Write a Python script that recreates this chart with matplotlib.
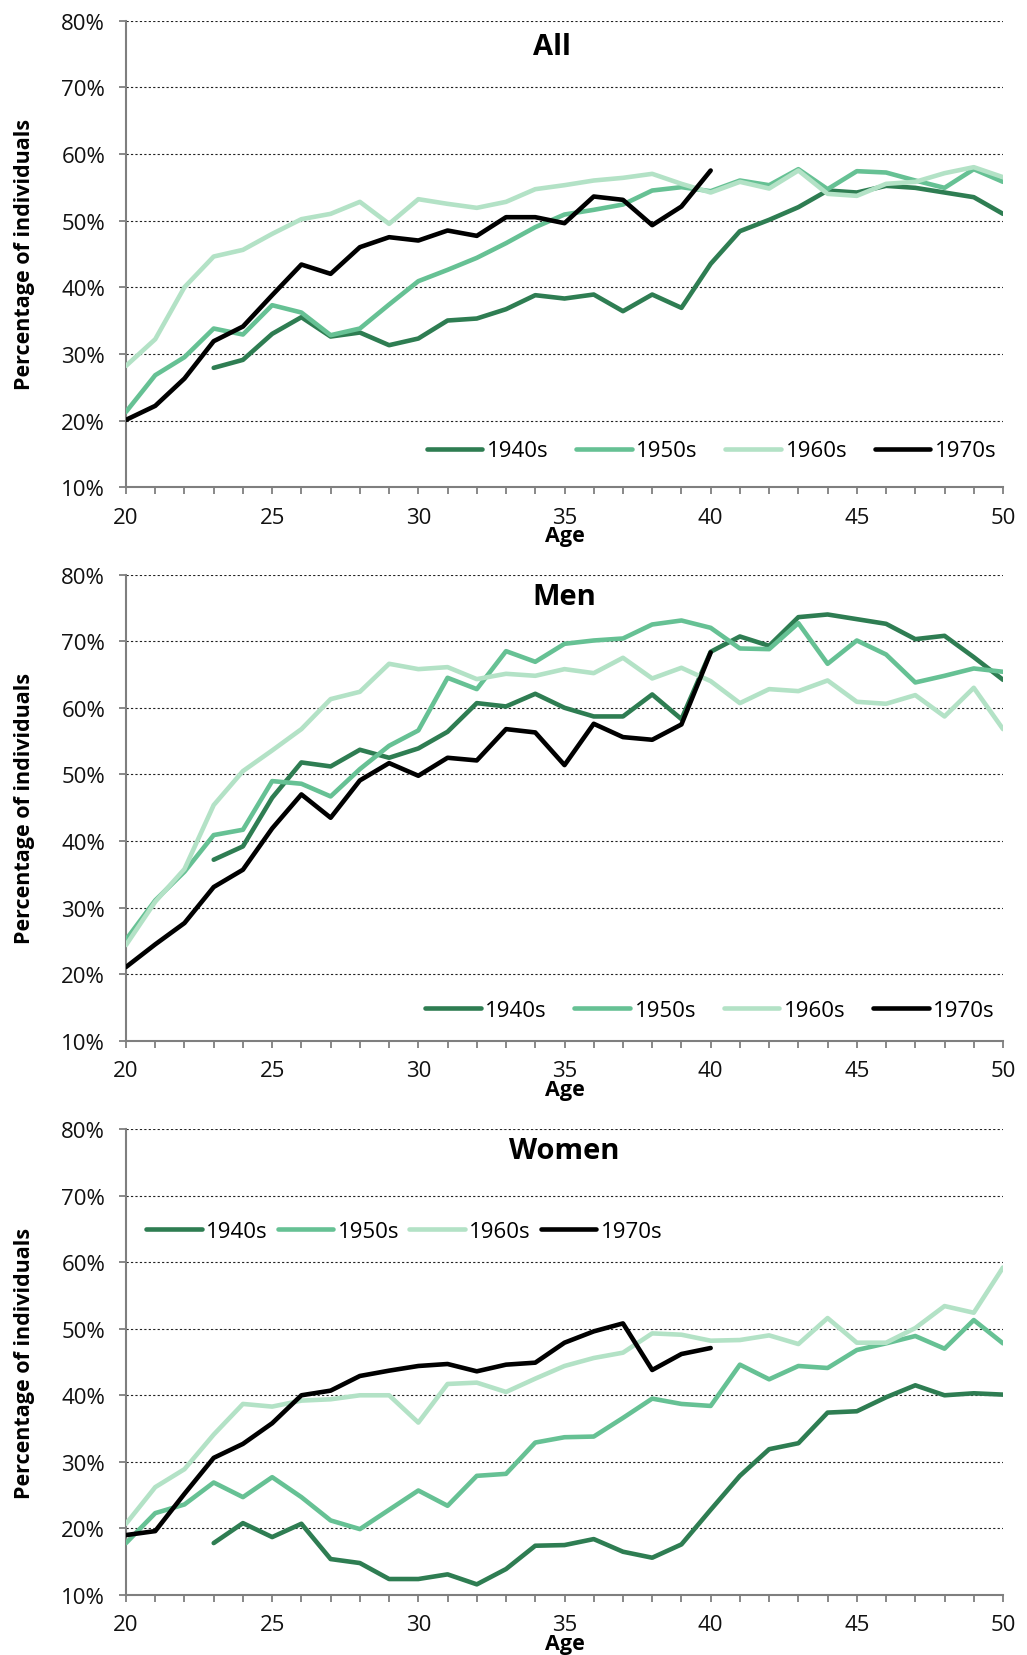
import matplotlib
matplotlib.use('Agg')
import matplotlib.pyplot as plt
from matplotlib.ticker import MultipleLocator, FuncFormatter
import numpy as np

plt.rcParams['font.family'] = ['Open Sans', 'DejaVu Sans']

cohorts = ['1940s', '1950s', '1960s', '1970s']
colors = ['#2e7d52', '#66c194', '#b3e2c6', '#000000']
start_ages = [23, 20, 20, 20]

# ---- All ----
all_1940s = [27.9, 29.1, 33.0, 35.5, 32.6, 33.2, 31.3, 32.3, 35.0, 35.3, 36.7, 38.8, 38.3, 38.9,
             36.4, 38.9, 36.9, 43.5, 48.4, 50.1, 52.0, 54.5, 54.2, 55.2, 54.9, 54.2, 53.5, 51.0]
all_1950s = [21.3, 26.8, 29.5, 33.8, 32.9, 37.3, 36.2, 32.8, 33.8, 37.4, 40.9, 42.6, 44.4, 46.6,
             49.0, 50.9, 51.6, 52.4, 54.5, 55.0, 54.4, 56.0, 55.3, 57.7, 54.7, 57.4, 57.2, 56.0,
             54.9, 57.7, 55.8]
all_1960s = [28.2, 32.2, 40.0, 44.6, 45.6, 48.0, 50.2, 51.0, 52.8, 49.5, 53.2, 52.5, 51.9, 52.8,
             54.7, 55.3, 56.0, 56.4, 57.0, 55.5, 54.2, 55.8, 54.8, 57.5, 54.0, 53.7, 55.5, 55.8,
             57.1, 58.0, 56.5]
all_1970s = [20.1, 22.2, 26.3, 31.9, 34.1, 38.8, 43.4, 42.0, 46.0, 47.5, 47.0, 48.5, 47.7, 50.5,
             50.5, 49.6, 53.6, 53.1, 49.3, 52.1, 57.5]

# ---- Men ----
men_1940s = [37.2, 39.2, 46.5, 51.8, 51.2, 53.7, 52.5, 53.9, 56.4, 60.7, 60.2, 62.1, 60.0, 58.7,
             58.7, 62.0, 58.3, 68.4, 70.7, 69.3, 73.6, 74.0, 73.3, 72.6, 70.3, 70.8, 67.6, 64.2]
men_1950s = [25.2, 31.1, 35.4, 40.9, 41.7, 49.0, 48.6, 46.7, 50.8, 54.3, 56.6, 64.5, 62.8, 68.5,
             66.9, 69.6, 70.1, 70.4, 72.5, 73.1, 72.0, 68.9, 68.8, 72.7, 66.6, 70.1, 68.0, 63.8,
             64.8, 65.9, 65.4]
men_1960s = [24.4, 30.9, 35.8, 45.4, 50.5, 53.6, 56.8, 61.3, 62.4, 66.6, 65.8, 66.1, 64.3, 65.1,
             64.8, 65.8, 65.2, 67.5, 64.4, 66.0, 64.0, 60.7, 62.8, 62.5, 64.1, 60.9, 60.6, 61.9,
             58.7, 63.0, 56.8]
men_1970s = [21.1, 24.5, 27.7, 33.1, 35.7, 41.9, 47.0, 43.5, 49.1, 51.7, 49.8, 52.5, 52.1, 56.8,
             56.3, 51.4, 57.6, 55.6, 55.2, 57.5, 68.3]

# ---- Women ----
women_1940s = [17.8, 20.8, 18.7, 20.7, 15.4, 14.8, 12.4, 12.4, 13.1, 11.6, 13.9, 17.4, 17.5, 18.4,
               16.5, 15.6, 17.6, 22.8, 27.9, 31.9, 32.8, 37.4, 37.6, 39.7, 41.5, 40.0, 40.3, 40.1]
women_1950s = [17.8, 22.3, 23.6, 26.9, 24.7, 27.7, 24.7, 21.2, 19.9, 22.8, 25.7, 23.4, 27.9, 28.2,
               32.9, 33.7, 33.8, 36.6, 39.5, 38.7, 38.4, 44.6, 42.4, 44.4, 44.1, 46.8, 47.8, 48.9,
               47.0, 51.3, 47.8]
women_1960s = [20.7, 26.2, 28.9, 34.1, 38.7, 38.3, 39.2, 39.4, 40.0, 40.0, 35.9, 41.7, 41.9, 40.5,
               42.5, 44.4, 45.6, 46.4, 49.3, 49.1, 48.2, 48.3, 49.0, 47.7, 51.6, 47.9, 47.9, 50.1,
               53.4, 52.4, 59.2]
women_1970s = [19.0, 19.6, 25.2, 30.6, 32.7, 35.8, 40.0, 40.7, 42.9, 43.7, 44.4, 44.7, 43.6, 44.6,
               44.9, 47.9, 49.6, 50.8, 43.8, 46.2, 47.1]

panels = [
    ('All', [all_1940s, all_1950s, all_1960s, all_1970s]),
    ('Men', [men_1940s, men_1950s, men_1960s, men_1970s]),
    ('Women', [women_1940s, women_1950s, women_1960s, women_1970s]),
]

W, H = 1027, 1656
fig = plt.figure(figsize=(W / 100, H / 100), dpi=100)

# axes boxes in pixels: (left, top, right, bottom)
boxes = [(126, 21.5, 1003, 488.2), (126, 575.5, 1003, 1042), (126, 1130, 1003, 1596)]
legend_anchor = [(0.343, 0.078, 1.25), (0.341, 0.065, 1.25), (0.0228, 0.781, 0.45)]
title_pos = [(0.486, 0.945), (0.5, 0.953), (0.5, 0.953)]

for i, (title, series) in enumerate(panels):
    l, t, r, b = boxes[i]
    ax = fig.add_axes([l / W, 1 - b / H, (r - l) / W, (b - t) / H])
    handles = []
    for vals, start, c, lab in zip(series, start_ages, colors, cohorts):
        x = np.arange(start, start + len(vals))
        h, = ax.plot(x, vals, color=c, lw=3.3, label=lab, solid_joinstyle='round',
                     solid_capstyle='round', zorder=3)
        handles.append(h)
    ax.set_xlim(20, 50)
    ax.set_ylim(10, 80)
    ax.yaxis.set_major_locator(MultipleLocator(10))
    ax.yaxis.set_major_formatter(FuncFormatter(lambda v, p: f'{v:.0f}%'))
    ax.xaxis.set_major_locator(MultipleLocator(5))
    ax.xaxis.set_minor_locator(MultipleLocator(1))
    for s in ['top', 'right']:
        ax.spines[s].set_visible(False)
    for s in ['left', 'bottom']:
        ax.spines[s].set_color('#7f7f7f')
        ax.spines[s].set_linewidth(1.5)
    ax.tick_params(axis='both', which='both', direction='out', color='#7f7f7f',
                   width=1.3, length=5, labelsize=16, labelcolor='#111111')
    ax.tick_params(axis='y', pad=10)
    ax.tick_params(axis='x', pad=9)
    ax.grid(axis='y', color='#222222', linestyle=(0, (2.0, 2.0)), linewidth=0.8, zorder=1)
    ax.set_axisbelow(True)
    ax.set_ylabel('Percentage of individuals', fontsize=15.5, fontweight='bold')
    ax.yaxis.set_label_coords(-0.104, 0.5)
    ax.set_xlabel('Age', fontsize=15.5, fontweight='bold')
    ax.xaxis.set_label_coords(0.5, -0.082)
    ax.text(title_pos[i][0], title_pos[i][1], title, transform=ax.transAxes, ha='center',
            va='center', fontsize=21, fontweight='bold')
    lx, ly, cs = legend_anchor[i]
    ax.legend(handles=handles, ncol=4, loc='center left', bbox_to_anchor=(lx, ly),
              frameon=False, fontsize=16, handlelength=2.5, handletextpad=0.2,
              columnspacing=cs, borderaxespad=0, borderpad=0)

fig.savefig('out.png', dpi=100)
